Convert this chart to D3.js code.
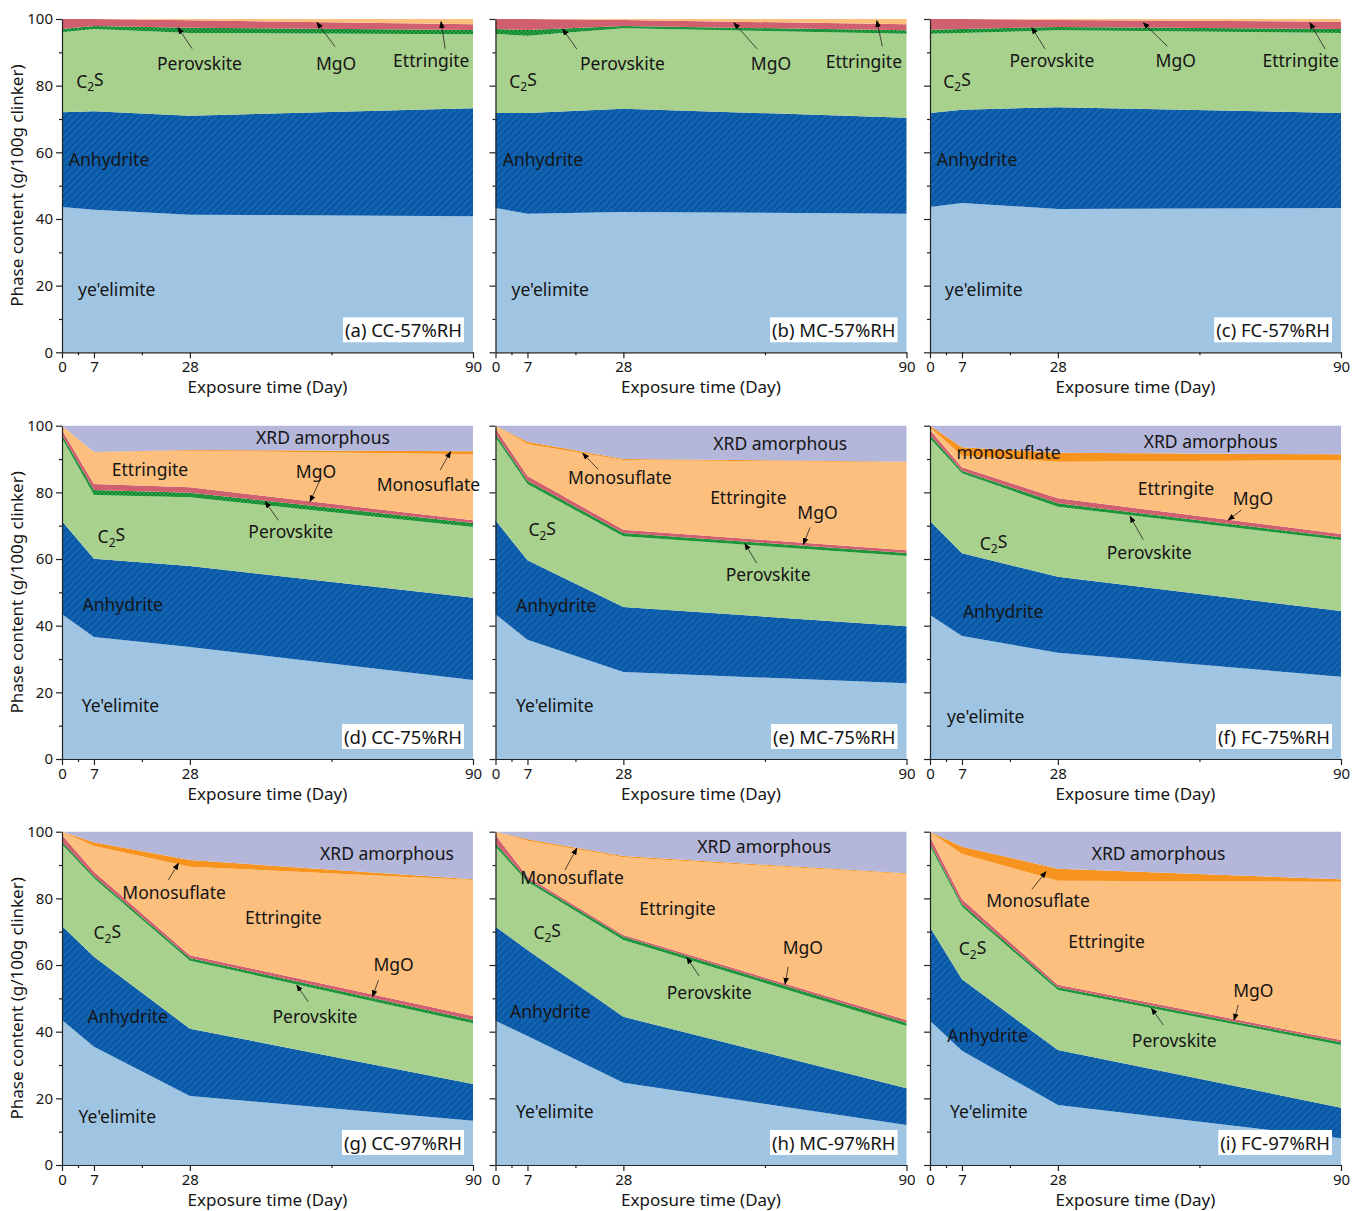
<!DOCTYPE html>
<html>
<head>
<meta charset="utf-8">
<script src="https://cdn.jsdelivr.net/npm/d3@7"></script>
<style>
body { margin: 0; background: #fff; }
text { font-family: "Noto Sans", "Open Sans", sans-serif; fill: #151515; }
</style>
</head>
<body>
<script>
// exposure days and axis ticks
const days = [0, 7, 28, 90];
const dayTicks = [0, 7, 28, 90];
const dayMinorTicks = [3.5, 17.5, 59];
const phaseTicks = [0, 20, 40, 60, 80, 100];
const phaseMinorTicks = [10, 30, 50, 70, 90];

const panelTitles = ['(a) CC-57%RH', '(b) MC-57%RH', '(c) FC-57%RH',
    '(d) CC-75%RH', '(e) MC-75%RH', '(f) FC-75%RH',
    '(g) CC-97%RH', '(h) MC-97%RH', '(i) FC-97%RH'];

// phase content (g/100g clinker), one row per panel, values at days 0, 7, 28, 90
const yeelimite = [
    [43.6, 42.8, 41.3, 40.8], [43.3, 41.6, 42.1, 41.6], [43.6, 44.8, 43.0, 43.3],
    [43.4, 36.6, 33.6, 23.7], [43.4, 35.8, 26.1, 22.7], [43.2, 36.9, 31.9, 24.7],
    [43.5, 35.5, 20.7, 13.3], [43.3, 38.7, 24.7, 12.0], [43.3, 34.3, 18.0, 8.0]];
const anhydrite = [
    [28.4, 29.5, 29.7, 32.4], [28.5, 30.2, 31.0, 28.8], [28.2, 28.0, 30.5, 28.5],
    [27.9, 23.5, 24.3, 24.7], [28.2, 23.8, 19.5, 17.1], [28.2, 24.8, 22.8, 19.7],
    [28.2, 27.0, 20.2, 11.0], [28.2, 25.8, 19.8, 11.0], [28.0, 21.4, 16.5, 9.2]];
const c2s = [
    [24.0, 24.7, 24.8, 22.2], [23.7, 23.2, 24.1, 25.2], [23.8, 23.0, 23.1, 24.0],
    [24.9, 19.1, 20.6, 21.2], [24.9, 22.9, 21.2, 21.1], [24.8, 24.0, 21.0, 21.3],
    [24.5, 23.5, 20.4, 18.2], [24.0, 20.5, 23.0, 18.7], [24.4, 21.8, 18.0, 18.8]];
const perovskite = [
    [1.0, 0.9, 1.6, 1.3], [1.5, 1.7, 0.7, 1.0], [1.2, 1.2, 1.0, 1.2],
    [1.0, 1.5, 1.4, 1.2], [1.0, 1.0, 1.0, 0.9], [1.0, 0.8, 1.0, 0.8],
    [0.8, 0.7, 0.8, 1.0], [1.0, 0.7, 1.0, 1.0], [0.8, 0.8, 0.8, 0.8]];
const mgo = [
    [3.0, 2.1, 2.2, 1.7], [3.0, 3.3, 1.8, 1.8], [3.2, 3.0, 2.1, 2.2],
    [1.5, 1.8, 1.6, 0.8], [1.7, 1.4, 1.0, 0.8], [1.5, 1.0, 1.5, 1.0],
    [2.0, 1.3, 0.8, 1.2], [2.5, 0.8, 0.5, 0.8], [2.0, 1.4, 0.8, 0.7]];
const ettringite = [
    [0, 0, 0.4, 1.6], [0, 0, 0.3, 1.6], [0, 0, 0.3, 0.8],
    [1.3, 9.5, 11.0, 19.8], [0.8, 9.6, 20.9, 26.4], [0.9, 3.5, 11.0, 22.2],
    [1.0, 7.7, 26.6, 40.8], [1.0, 10.8, 23.3, 43.8], [1.5, 13.6, 31.2, 47.5]];
const monosulfate = [
    [0, 0, 0, 0], [0, 0, 0, 0], [0, 0, 0, 0],
    [0, 0.1, 0.2, 0.9], [0, 0.7, 0.3, 0.2], [0.4, 2.5, 2.7, 1.7],
    [0, 1.1, 2.0, 0.2], [0, 0.4, 0.4, 0.2], [0, 2.2, 3.6, 0.7]];
const amorphous = [
    [0, 0, 0, 0], [0, 0, 0, 0], [0, 0, 0, 0],
    [0, 7.9, 7.3, 7.7], [0, 4.8, 10.0, 10.8], [0, 6.5, 8.1, 8.6],
    [0, 3.2, 8.5, 14.3], [0, 2.3, 7.3, 12.5], [0, 4.5, 11.1, 14.3]];

const phaseKeys = ['yeelimite', 'anhydrite', 'c2s', 'perovskite', 'mgo', 'ettringite', 'monosulfate', 'amorphous'];
const phaseData = {yeelimite, anhydrite, c2s, perovskite, mgo, ettringite, monosulfate, amorphous};
const phaseFill = {
    yeelimite: '#a0c5e2',
    anhydrite: 'url(#hatch-anhydrite)',
    c2s: '#a9d18e',
    perovskite: 'url(#hatch-perovskite)',
    mgo: '#d0606f',
    ettringite: '#fdbf7d',
    monosulfate: '#f7931f',
    amorphous: '#b4b6da'
};

// annotations: [text, day, content] (left edge, vertical middle)
const labels = [
    [['Perovskite', 20.8, 86.6], ['MgO', 55.6, 86.6], ['Ettringite', 72.5, 87.5], ['C2S', 3.1, 81.2], ['Anhydrite', 1.5, 57.8], ["ye'elimite", 3.5, 18.8]],
    [['Perovskite', 18.5, 86.6], ['MgO', 55.9, 86.6], ['Ettringite', 72.3, 87.2], ['C2S', 3.0, 81.2], ['Anhydrite', 1.6, 57.8], ["ye'elimite", 3.5, 18.8]],
    [['Perovskite', 17.4, 87.3], ['MgO', 49.4, 87.3], ['Ettringite', 72.8, 87.3], ['C2S', 2.9, 81.2], ['Anhydrite', 1.5, 57.8], ["ye'elimite", 3.3, 18.8]],
    [['XRD amorphous', 42.5, 96.2], ['Ettringite', 10.9, 86.7], ['MgO', 51.2, 86.2], ['Monosuflate', 68.9, 82.2], ['C2S', 7.8, 66.6], ['Perovskite', 40.8, 68.1], ['Anhydrite', 4.5, 46.1], ["Ye'elimite", 4.3, 15.8]],
    [['XRD amorphous', 47.7, 94.4], ['Monosuflate', 15.9, 84.2], ['Ettringite', 47.0, 78.2], ['MgO', 66.1, 73.8], ['C2S', 7.2, 68.6], ['Perovskite', 50.4, 55.1], ['Anhydrite', 4.5, 45.8], ["Ye'elimite", 4.5, 15.8]],
    [['XRD amorphous', 46.8, 95.0], ['monosuflate', 5.8, 91.7], ['Ettringite', 45.5, 80.9], ['MgO', 66.3, 77.9], ['C2S', 10.9, 64.6], ['Perovskite', 38.7, 61.8], ['Anhydrite', 7.2, 44.1], ["ye'elimite", 3.7, 12.5]],
    [['XRD amorphous', 56.5, 93.2], ['Monosuflate', 13.2, 81.5], ['Ettringite', 40.1, 74.2], ['MgO', 68.2, 60.0], ['C2S', 6.9, 69.5], ['Perovskite', 46.1, 44.3], ['Anhydrite', 5.6, 44.3], ["Ye'elimite", 3.6, 14.3]],
    [['XRD amorphous', 44.2, 95.5], ['Monosuflate', 5.4, 86.0], ['Ettringite', 31.5, 76.8], ['MgO', 62.9, 65.0], ['C2S', 8.3, 69.7], ['Perovskite', 37.5, 51.5], ['Anhydrite', 3.2, 46.0], ["Ye'elimite", 4.5, 16.0]],
    [['XRD amorphous', 35.4, 93.2], ['Monosuflate', 12.3, 79.3], ['Ettringite', 30.3, 67.0], ['MgO', 66.4, 52.3], ['C2S', 6.3, 64.7], ['Perovskite', 44.2, 37.3], ['Anhydrite', 3.8, 38.7], ["Ye'elimite", 4.4, 16.0]]
];

// pointer arrows: [fromDay, fromContent, toDay, toContent]
const arrows = [
    [[28.5, 91.1, 25.4, 97.4], [59.8, 91.7, 55.8, 99.0], [83.9, 91.1, 83.0, 99.2]],
    [[17.8, 91.0, 14.7, 97.0], [57.3, 91.0, 52.2, 98.9], [84.7, 91.8, 83.5, 99.5]],
    [[25.2, 91.0, 22.3, 97.4], [52.0, 91.8, 46.7, 98.9], [86.5, 91.0, 83.2, 98.9]],
    [[56.5, 83.7, 54.3, 77.2], [82.8, 86.7, 85.1, 92.2], [47.4, 71.6, 44.5, 77.2]],
    [[22.5, 86.9, 19.1, 91.7], [68.9, 69.5, 67.4, 64.4], [57.2, 58.8, 54.6, 64.6]],
    [[68.2, 74.7, 65.3, 71.7], [46.7, 65.8, 43.8, 72.8]],
    [[23.3, 85.5, 25.5, 90.5], [69.3, 55.5, 68.0, 50.5], [53.9, 49.0, 51.4, 54.0]],
    [[15.2, 88.5, 17.8, 95.0], [64.1, 59.5, 63.4, 54.3], [44.6, 56.7, 41.9, 62.2]],
    [[22.3, 82.7, 25.4, 88.0], [67.5, 48.0, 66.6, 43.5], [51.1, 42.0, 48.5, 47.0]]
];

const width = 1361;
const height = 1211;
const colX = [62, 495.5, 930];
const rowY = [19, 425.7, 831.7];
const pw = 411;
const ph = 333.3;

const svg = d3.select('body')
    .append('svg')
    .attr('width', width)
    .attr('height', height);

const defs = svg.append('defs');

const hatchA = defs.append('pattern')
    .attr('id', 'hatch-anhydrite')
    .attr('patternUnits', 'userSpaceOnUse')
    .attr('width', 7)
    .attr('height', 7);
hatchA.append('rect').attr('width', 7).attr('height', 7).attr('fill', '#0b5aa8');
hatchA.append('path')
    .attr('d', 'M-1,1 l2,-2 M0,7 l7,-7 M6,8 l2,-2')
    .attr('stroke', '#3583c6')
    .attr('stroke-width', 0.7);

const hatchP = defs.append('pattern')
    .attr('id', 'hatch-perovskite')
    .attr('patternUnits', 'userSpaceOnUse')
    .attr('width', 4)
    .attr('height', 4);
hatchP.append('rect').attr('width', 4).attr('height', 4).attr('fill', '#2ba646');
hatchP.append('path')
    .attr('d', 'M0,0 l4,4 M4,0 l-4,4')
    .attr('stroke', '#0d7a2a')
    .attr('stroke-width', 0.8);

defs.append('marker')
    .attr('id', 'arrowhead')
    .attr('viewBox', '0 0 10 10')
    .attr('refX', 9)
    .attr('refY', 5)
    .attr('markerWidth', 7)
    .attr('markerHeight', 7)
    .attr('markerUnits', 'userSpaceOnUse')
    .attr('orient', 'auto')
    .append('path')
    .attr('d', 'M0,1 L10,5 L0,9 z')
    .attr('fill', '#000');

const stack = d3.stack().keys(phaseKeys);

panelTitles.forEach((title, p) =>
{
    const col = p % 3;
    const row = Math.floor(p / 3);

    const g = svg.append('g')
        .attr('transform', `translate(${colX[col]},${rowY[row]})`);

    const x = d3.scaleLinear([0, 90], [0, pw]);
    const y = d3.scaleLinear([0, 100], [ph, 0]);

    const table = days.map((day, i) =>
    {
        const r = {day};
        phaseKeys.forEach(k => { r[k] = phaseData[k][p][i]; });
        return r;
    });

    const area = d3.area()
        .x(d => x(d.data.day))
        .y0(d => y(d[0]))
        .y1(d => y(d[1]));

    g.selectAll('path.layer')
        .data(stack(table))
        .enter()
        .append('path')
        .attr('class', 'layer')
        .attr('d', area)
        .attr('fill', d => phaseFill[d.key]);

    // labels
    labels[p].forEach(([text, day, value]) =>
    {
        const t = g.append('text')
            .attr('x', x(day))
            .attr('y', y(value))
            .attr('dy', '0.35em')
            .style('font-size', '17.5px');
        if (text === 'C2S')
        {
            t.append('tspan').text('C');
            t.append('tspan').text('2').attr('dy', '0.3em').style('font-size', '12px');
            t.append('tspan').text('S').attr('dy', '-0.3em');
        }
        else
        {
            t.text(text);
        }
    });

    arrows[p].forEach(([d1, v1, d2, v2]) =>
    {
        g.append('line')
            .attr('x1', x(d1)).attr('y1', y(v1))
            .attr('x2', x(d2)).attr('y2', y(v2))
            .attr('stroke', '#222')
            .attr('stroke-width', 0.8)
            .attr('marker-end', 'url(#arrowhead)');
    });

    // panel title box
    const tt = g.append('text')
        .attr('x', pw - 11)
        .attr('y', ph - 21.5)
        .attr('dy', '0.35em')
        .attr('text-anchor', 'end')
        .style('font-size', '18.5px')
        .text(title);
    const bb = tt.node().getBBox();
    g.insert('rect', () => tt.node())
        .attr('x', bb.x - 2)
        .attr('y', bb.y)
        .attr('width', bb.width + 4)
        .attr('height', bb.height)
        .attr('fill', '#fff');

    // axes
    g.append('g')
        .call(d3.axisLeft(y).tickValues(phaseTicks).tickSize(6).tickSizeOuter(0)
            .tickPadding(3).tickFormat(col === 0 ? d3.format('d') : ''));
    g.append('g')
        .call(d3.axisLeft(y).tickValues(phaseMinorTicks).tickSize(3).tickSizeOuter(0).tickFormat(''))
        .select('.domain').remove();

    g.append('g')
        .attr('transform', `translate(0,${ph})`)
        .call(d3.axisBottom(x).tickValues(dayTicks).tickSize(6).tickSizeOuter(0).tickPadding(3));
    g.append('g')
        .attr('transform', `translate(0,${ph})`)
        .call(d3.axisBottom(x).tickValues(dayMinorTicks).tickSize(3).tickSizeOuter(0).tickFormat(''))
        .select('.domain').remove();

    g.selectAll('.domain, .tick line').attr('stroke', '#222').attr('stroke-width', 1.2);
    g.selectAll('.tick text')
        .style('font-size', '15px')
        .style('font-family', '"Noto Sans", "Open Sans", sans-serif')
        .attr('fill', '#222');

    g.append('text')
        .attr('x', pw / 2)
        .attr('y', ph + 35)
        .attr('dy', '0.35em')
        .attr('text-anchor', 'middle')
        .style('font-size', '17px')
        .text('Exposure time (Day)');

    if (col === 0)
    {
        g.append('text')
            .attr('transform', `translate(-45,${ph / 2}) rotate(-90)`)
            .attr('dy', '0.35em')
            .attr('text-anchor', 'middle')
            .style('font-size', '17px')
            .text('Phase content (g/100g clinker)');
    }
});
</script>
</body>
</html>
